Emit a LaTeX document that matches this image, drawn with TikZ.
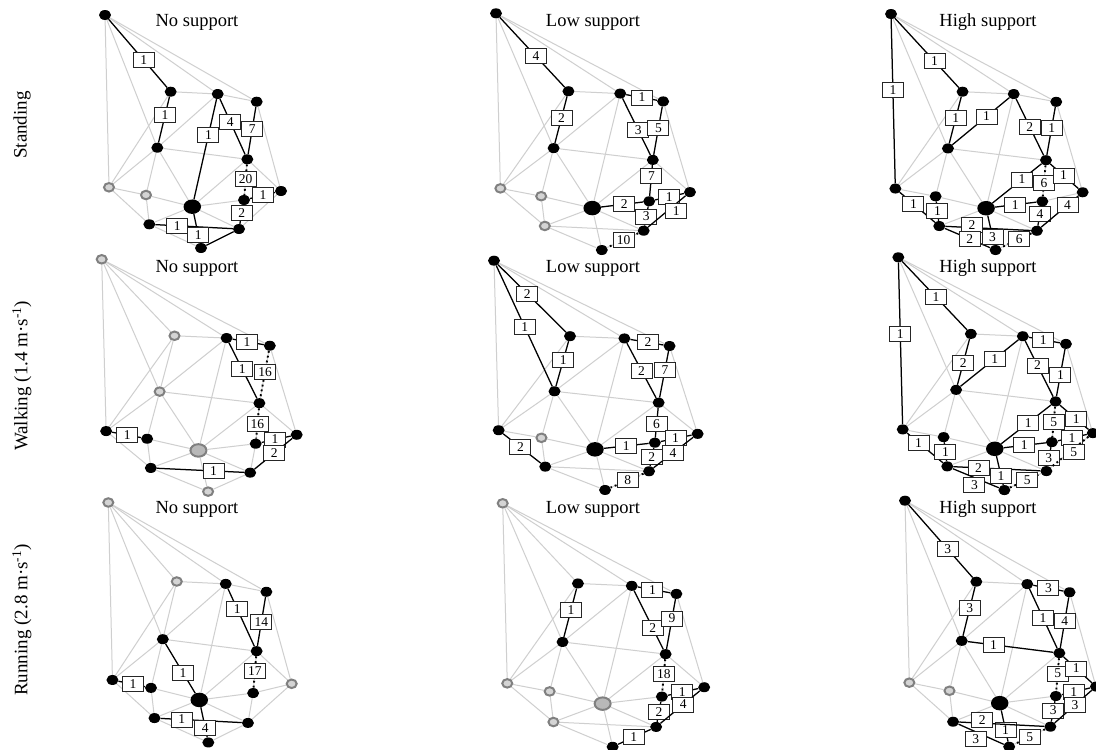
\documentclass[tikz,border=0pt]{standalone}
\usepackage{fontspec}
\setmainfont{Liberation Serif}
\usetikzlibrary{shapes.geometric}
\pgfdeclarelayer{background}
\pgfdeclarelayer{links}
\pgfsetlayers{background,links,main}

\definecolor{meshgrey}{HTML}{CFCFCF}
\definecolor{ringgrey}{HTML}{808080}
\definecolor{ringfill}{HTML}{D4D4D4}
\definecolor{bigfill}{HTML}{B8B8B8}

% common layout of the 14 sites (px, y down, relative to A)
\newcommand{\nodelist}{A/0/0, B/65.7/76.7, C/112.7/79, D/151.7/86.7,
  E/52.3/132.7, F/142.3/144.3, G/4/172.3, H/41/180, I/87.3/191.7,
  J/139/185, K/176/176, L/44.3/209.3, M/134/214, N/96/233}
\newcommand{\greylist}{A/B, A/C, A/D, A/E, A/G, B/C, B/E, B/G, C/D, C/E,
  C/F, C/I, D/F, D/K, E/F, E/G, E/H, E/I, F/I, F/J, F/K, G/H, G/L, H/I,
  H/L, I/J, I/L, I/M, I/N, J/K, J/M, K/M, L/M, L/N, M/N}

\newcommand{\panel}[2]{%
  \begin{scope}[#2]
    \foreach \n/\x/\y in \nodelist
      \node[dot, kind/.expanded=\n] (#1\n) at (\x,\y) {};
  \end{scope}
  \begin{pgfonlayer}{background}
    \foreach \u/\v in \greylist
      \draw[mesh] (#1\u) -- (#1\v);
  \end{pgfonlayer}}

\newcommand{\links}[2]{%
  \begin{pgfonlayer}{links}
    \foreach \u/\v/\w/\p/\s in {#2}
      \draw[\s] (#1\u) -- node[lbl, pos=\p] {\w} (#1\v);
  \end{pgfonlayer}}

\begin{document}
\begin{tikzpicture}[x=1pt, y=-1pt,
    dot/.style={ellipse, fill=black, inner sep=0pt, minimum width=12pt, minimum height=10pt},
    big/.style={minimum width=17.5pt, minimum height=14.5pt},
    ring/.style={fill=ringfill, draw=ringgrey, line width=2pt, minimum width=10pt, minimum height=8.5pt},
    bigring/.style={fill=bigfill, draw=ringgrey, line width=2pt, minimum width=16pt, minimum height=12.5pt},
    kind/.style={vx #1/.try},
    vx I/.style={big},
    mesh/.style={meshgrey, line width=1pt},
    link/.style={line width=1.25pt},
    linkup/.style={link, nodes={yshift=3pt}},
    linkdown/.style={link, nodes={yshift=-7pt}},
    dotlink/.style={line width=1.9pt, dash pattern=on 1.9pt off 3pt},
    dotdown/.style={dotlink, nodes={yshift=-3pt}},
    lbl/.style={rectangle, draw=black!85, fill=white, solid, line width=0.9pt, inner sep=0pt,
      minimum width=21pt, minimum height=15pt, font=\fontsize{13.5}{14}\selectfont},
    title/.style={font=\fontsize{18.5}{20}\selectfont},
    rowlbl/.style={rotate=90, font=\fontsize{19}{21}\selectfont},
  ]
  \useasboundingbox (0,0) rectangle (1096,750);
  \begin{pgfonlayer}{background}
    \fill[white] (0,0) rectangle (1096,750);
  \end{pgfonlayer}

  % row labels
  \node[rowlbl] (rstand) at (22,125) {Standing};
  \node[rowlbl] (rwalk) at (22,376) {Walking (1.4 m·s\textsuperscript{-1})};
  \node[rowlbl] (rrun) at (22,620) {Running (2.8 m·s\textsuperscript{-1})};

  % column titles
  \foreach \r/\y in {1/22, 2/268, 3/509} {
    \node[title] (t\r1) at (197,\y) {No support};
    \node[title] (t\r2) at (593,\y) {Low support};
    \node[title] (t\r3) at (988,\y) {High support};
  }

  % standing
  \panel{p11}{shift={(105,15)}, vx G/.style={ring}, vx H/.style={ring}}
  \links{p11}{A/B/1/.6/link, B/E/1/.4/link, C/I/1/.36/link, C/F/4/.41/link,
    D/F/7/.47/link, F/J/20/.48/dotlink, J/K/1/.52/link, J/M/2/.41/link,
    L/M/1/.28/link, I/N/1/.74/link}
  \begin{pgfonlayer}{links}
    \draw[link] (p11M) -- (p11N);
  \end{pgfonlayer}

  \panel{p12}{shift={(496,13.3)}, xscale=1.102, yscale=1.016,
    vx G/.style={ring}, vx H/.style={ring}, vx L/.style={ring}}
  \links{p12}{A/B/4/.56/link, B/E/2/.46/link, C/D/1/.51/link, C/F/3/.56/link,
    D/F/5/.45/link, F/J/7/.36/link, I/J/2/.55/link, J/K/1/.49/link,
    J/M/3/.53/link, K/M/1/.25/linkdown, M/N/10/.47/dotlink}

  \panel{p13}{shift={(891,14)}, xscale=1.089, yscale=1.013}
  \links{p13}{A/G/1/.43/link, A/B/1/.62/link, B/E/1/.45/link, E/C/1/.6/link,
    C/F/2/.5/link, D/F/1/.43/link, F/J/6/.58/dotlink, I/F/1/.6/link,
    F/K/1/.47/link, G/L/1/.39/link, H/L/1/.49/link, I/J/1/.49/link,
    J/M/4/.41/link, K/M/4/.29/link, L/M/2/.31/linkup, L/N/2/.55/link,
    I/N/3/.72/link, M/N/6/.4/dotlink}

  % walking
  \panel{p21}{shift={(101.7,259.3)}, xscale=1.108, yscale=0.997,
    vx A/.style={ring}, vx B/.style={ring}, vx E/.style={ring},
    vx I/.style={bigring}, vx N/.style={ring}}
  \links{p21}{C/D/1/.46/link, C/F/1/.47/link, D/F/16/.45/dotlink,
    F/J/16/.53/dotlink, J/K/1/.46/link, K/M/2/.48/link, L/M/1/.65/link,
    G/H/1/.52/link}

  \panel{p22}{shift={(494,260.7)}, xscale=1.157, yscale=0.984, vx H/.style={ring}}
  \links{p22}{A/B/2/.43/link, A/E/1/.51/link, B/E/1/.42/link, C/D/2/.53/link,
    C/F/2/.5/link, D/F/7/.4/link, F/J/6/.54/link, I/J/1/.5/link,
    J/K/1/.48/link, J/M/2/.52/link, K/M/4/.51/link, G/L/2/.46/link,
    M/N/8/.48/dotlink}

  \panel{p23}{shift={(898.3,257.3)}, xscale=1.105, yscale=0.999}
  \links{p23}{A/G/1/.44/link, A/B/1/.52/link, B/E/2/.53/link, E/C/1/.59/link,
    C/D/1/.46/link, C/F/2/.44/link, D/F/1/.54/link, I/F/1/.54/link,
    F/J/5/.51/dotlink, F/K/1/.57/link, I/J/1/.49/link, J/K/1/.49/link,
    J/M/3/.58/link, K/M/5/.39/dotdown, G/L/1/.32/link, H/L/1/.5/link,
    L/M/2/.29/link, L/N/3/.47/linkdown, I/N/1/.69/link, N/M/5/.56/dotlink}

  % running
  \panel{p31}{shift={(108.3,502.5)}, xscale=1.042, yscale=1.03,
    vx A/.style={ring}, vx B/.style={ring}, vx K/.style={ring}}
  \links{p31}{C/F/1/.35/link, D/F/14/.51/link, F/J/17/.46/dotlink,
    E/I/1/.59/link, G/H/1/.55/link, L/M/1/.26/link, I/N/4/.69/link}

  \panel{p32}{shift={(502.7,503.3)}, xscale=1.145, yscale=1.045,
    vx A/.style={ring}, vx G/.style={ring}, vx H/.style={ring},
    vx I/.style={bigring}, vx L/.style={ring}}
  \links{p32}{B/E/1/.44/link, C/D/1/.45/link, C/F/2/.64/link, D/F/9/.39/link,
    F/J/18/.46/dotlink, J/K/1/.47/link, J/M/2/.49/link, K/M/4/.42/link,
    M/N/1/.52/link}

  \panel{p33}{shift={(905,500.7)}, xscale=1.085, yscale=1.056,
    vx G/.style={ring}, vx H/.style={ring}}
  \links{p33}{A/B/3/.61/link, B/E/3/.43/link, E/F/1/.3/link, C/D/3/.5/link,
    C/F/1/.49/link, D/F/4/.46/link, F/J/5/.47/dotlink, F/K/1/.45/link,
    J/K/1/.42/link, J/M/3/.46/link, K/M/3/.45/link, I/N/1/.62/link,
    L/M/2/.27/linkup, L/N/3/.38/linkdown, M/N/5/.5/dotlink}
\end{tikzpicture}
\end{document}
